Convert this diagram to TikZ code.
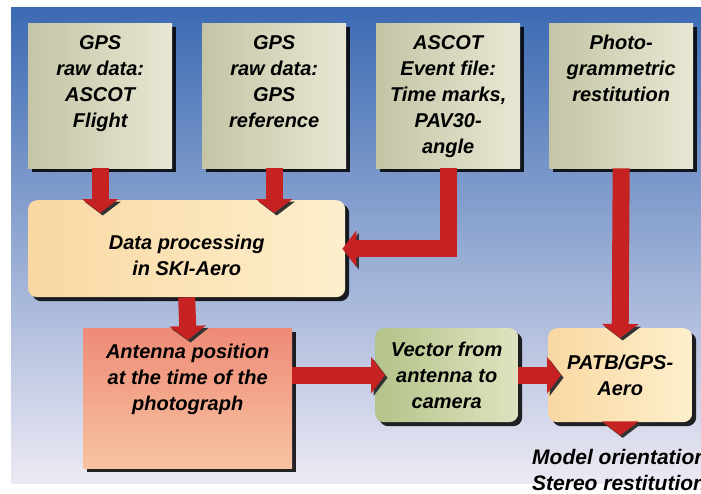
\documentclass[tikz,border=0pt]{standalone}
\usepackage{fontspec}
\setmainfont{Liberation Sans}
\usetikzlibrary{arrows.meta,shadows}

\definecolor{skytop}{HTML}{3B6AB3}
\definecolor{skymid}{HTML}{8FB0DC}
\definecolor{skylow}{HTML}{ECE9F3}
\definecolor{srcdark}{HTML}{C4C5A5}
\definecolor{srclight}{HTML}{E8E7D4}
\definecolor{procdark}{HTML}{F9D8A2}
\definecolor{proclight}{HTML}{FDEFCD}
\definecolor{antdark}{HTML}{EE8A76}
\definecolor{antlight}{HTML}{F8C4A2}
\definecolor{vecdark}{HTML}{B3C48A}
\definecolor{veclight}{HTML}{E0E2C0}
\definecolor{flowred}{HTML}{C62222}

\begin{document}
\begin{tikzpicture}[x=1pt, y=-1pt,
    boxtext/.style={font=\fontsize{20pt}{26pt}\selectfont\bfseries\itshape,
                    align=center, inner sep=0pt},
    panel/.style={anchor=north west, inner sep=0pt,
                  drop shadow={shadow xshift=4pt, shadow yshift=-4pt,
                               fill=black, opacity=.85}},
    srcbox/.style={panel, minimum width=144pt, minimum height=145pt,
                   left color=srcdark, right color=srclight},
    procbox/.style={panel, rounded corners=9pt,
                    left color=procdark, right color=proclight},
    antbox/.style={panel, minimum width=209pt, minimum height=140pt,
                   top color=antdark, bottom color=antlight},
    vecbox/.style={panel, rounded corners=9pt, minimum width=143pt, minimum height=94pt,
                   left color=vecdark, right color=veclight},
    flow/.style={draw=flowred, line width=17pt, line join=miter,
                 -{Triangle[width=36pt, length=14pt]},
                 preaction={draw=black!80, transform canvas={shift={(2.5pt,-2.5pt)}}}}]

  \useasboundingbox (0,0) rectangle (701,493);
  \fill[top color=skytop, middle color=skymid, bottom color=skylow] (11,7) rectangle (701,483);

  % sources
  \node[srcbox] (gpsflight) at (28,23) {};
  \node[srcbox] (gpsref)    at (202,23) {};
  \node[srcbox] (event)     at (376,23) {};
  \node[srcbox] (photo)     at (549,23) {};

  % processing
  \node[procbox, minimum width=317pt, minimum height=97pt] (dp) at (28,200) {};
  \node[antbox] (antenna) at (83,328) {};
  \node[vecbox] (vector)  at (375,328) {};
  \node[procbox, minimum width=144pt, minimum height=94pt] (patb) at (548,328) {};
  \coordinate (result) at ([yshift=-13pt]patb.south);

  % connectors
  \draw[flow, shorten >=-13pt] (gpsflight.south) -- (gpsflight.south |- dp.north);
  \draw[flow, shorten >=-13pt] (gpsref.south) -- (gpsref.south |- dp.north);
  \draw[flow, shorten >=-3pt] (event.south) |- (dp.east);
  \draw[flow, shorten >=-10pt] (photo.south) -- (patb.north);
  \draw[flow, shorten >=-12pt] (dp.south) -- (antenna.north);
  \draw[flow, shorten >=-10pt] (antenna.east |- vector.west) -- (vector.west);
  \draw[flow, shorten >=-13pt] (vector.east) -- (patb.west);
  \draw[flow] (patb.south) -- (result);

  % texts
  \node[boxtext, anchor=north] (gpsflight-t) at ([yshift=-12pt]gpsflight.north)
    {GPS\\raw data:\\ASCOT\\Flight};
  \node[boxtext, anchor=north] (gpsref-t) at ([yshift=-12pt]gpsref.north)
    {GPS\\raw data:\\GPS\\reference};
  \node[boxtext, anchor=north] (event-t) at ([yshift=-12pt]event.north)
    {ASCOT\\Event file:\\Time marks,\\PAV30-\\angle};
  \node[boxtext, anchor=north] (photo-t) at ([yshift=-12pt]photo.north)
    {Photo-\\grammetric\\restitution};
  \node[boxtext] (dp-t) at ([yshift=-7pt]dp.center) {Data processing\\in SKI-Aero};
  \node[boxtext, anchor=north] (antenna-t) at ([yshift=-16pt]antenna.north)
    {Antenna position\\at the time of the\\photograph};
  \node[boxtext] (vector-t) at (vector.center) {Vector from\\antenna to\\camera};
  \node[boxtext] (patb-t) at (patb.center) {PATB/GPS-\\Aero};
  \node[font=\fontsize{21pt}{26pt}\selectfont\bfseries\itshape, align=left,
        inner sep=0pt, anchor=north west] (result-t) at (532,449)
    {Model orientation\\Stereo restitution};
\end{tikzpicture}
\end{document}
